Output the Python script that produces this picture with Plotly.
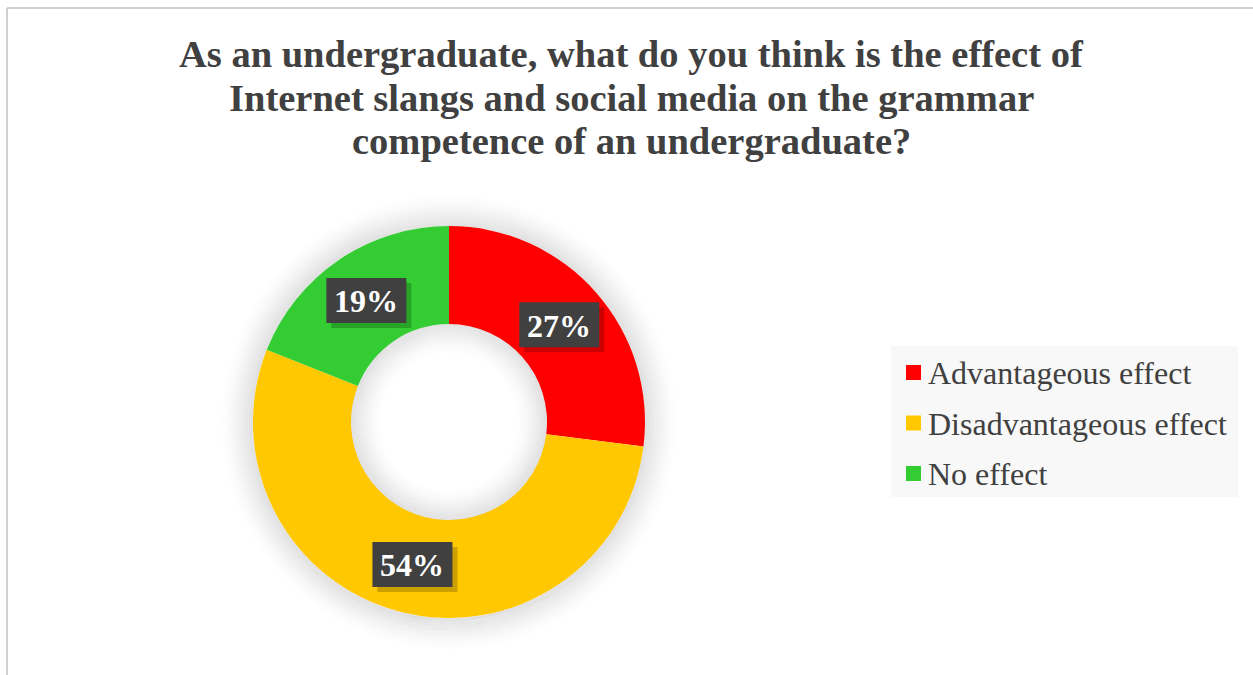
import math
import plotly.graph_objects as go

# Survey responses
categories = ["Advantageous effect", "Disadvantageous effect", "No effect"]
shares = [27, 54, 19]
slice_colors = ["#FF0000", "#FFC800", "#33CC33"]
title_lines = [
    "As an undergraduate, what do you think is the effect of",
    "Internet slangs and social media on the grammar",
    "competence of an undergraduate?",
]

W, H = 1253, 675
SERIF = "Liberation Serif, Times New Roman, serif"
TEXT_GRAY = "#404040"

# Donut geometry in pixels
CX, CY = 449, 422
R_OUT = 196
HOLE = 0.5
R_IN = R_OUT * HOLE


def px(x):
    return x / W


def py(y):
    return (H - y) / H


fig = go.Figure(
    go.Pie(
        labels=categories,
        values=shares,
        marker=dict(colors=slice_colors, line=dict(width=0)),
        hole=HOLE,
        sort=False,
        direction="clockwise",
        rotation=0,
        textinfo="none",
        hoverinfo="label+percent",
        showlegend=False,
        domain=dict(x=[px(CX - R_OUT), px(CX + R_OUT)],
                    y=[py(CY + R_OUT), py(CY - R_OUT)]),
    )
)

shapes = []


def circle(r, color, width, layer="below"):
    return dict(type="circle", xref="paper", yref="paper",
                x0=px(CX - r), x1=px(CX + r), y0=py(CY + r), y1=py(CY - r),
                line=dict(color=color, width=width), fillcolor="rgba(0,0,0,0)",
                layer=layer)


def rect(x0, y0, x1, y1, fill, layer="above"):
    return dict(type="rect", xref="paper", yref="paper",
                x0=px(x0), x1=px(x1), y0=py(y1), y1=py(y0),
                fillcolor=fill, line=dict(width=0), layer=layer)


# Soft glow outside the ring
steps = 16
for k in range(steps):
    a = 0.11 * (1 - k / steps) ** 1.4
    shapes.append(circle(R_OUT + 1 + 2 * k, f"rgba(0,0,0,{a:.4f})", 2.2))

# Soft inner shading around the hole edge
steps_in = 16
for k in range(steps_in):
    a = 0.11 * (1 - k / steps_in) ** 1.5
    shapes.append(circle(R_IN - 1 - 2 * k, f"rgba(0,0,0,{a:.4f})", 2.2, layer="above"))

# Chart frame (top and left edges)
shapes.append(dict(type="line", xref="paper", yref="paper",
                   x0=px(7), x1=1, y0=py(8), y1=py(8),
                   line=dict(color="#C0C0C0", width=1.5)))
shapes.append(dict(type="line", xref="paper", yref="paper",
                   x0=px(7), x1=px(7), y0=py(8), y1=0,
                   line=dict(color="#C0C0C0", width=1.5)))

# Legend panel
shapes.append(rect(891, 346, 1238, 497, "#F8F8F8", layer="below"))

annotations = []

# Title, one annotation per line
for i, line in enumerate(title_lines):
    annotations.append(dict(
        text=f"<b>{line}</b>", xref="paper", yref="paper",
        x=px(631), y=py(54 + 43.5 * i), xanchor="center", yanchor="middle",
        showarrow=False, font=dict(family=SERIF, size=38.5, color=TEXT_GRAY)))

# Legend entries
ROW0, ROW_GAP = 372, 50.5
for i, (name, col) in enumerate(zip(categories, slice_colors)):
    yc = ROW0 + ROW_GAP * i
    shapes.append(rect(906, yc - 7, 921, yc + 8, col))
    annotations.append(dict(
        text=name, xref="paper", yref="paper", x=px(926), y=py(yc + 1),
        xanchor="left", yanchor="middle", showarrow=False,
        font=dict(family=SERIF, size=32, color=TEXT_GRAY)))

# Percentage labels at slice mid-angles, centred in the ring
total = sum(shares)
r_mid = (R_OUT + R_IN) / 2
BOX_W, BOX_H = 80, 45
cum = 0
for v in shares:
    ang = math.radians(360 * (cum + v / 2) / total)
    cum += v
    lx = CX + r_mid * math.sin(ang)
    ly = CY - r_mid * math.cos(ang)
    pct = f"{round(100 * v / total)}%"
    # drop shadow, then the dark label box
    shapes.append(rect(lx - BOX_W / 2 + 5, ly - BOX_H / 2 + 5,
                       lx + BOX_W / 2 + 5, ly + BOX_H / 2 + 5, "rgba(0,0,0,0.2)"))
    shapes.append(rect(lx - BOX_W / 2, ly - BOX_H / 2,
                       lx + BOX_W / 2, ly + BOX_H / 2, "#404040"))
    annotations.append(dict(
        text=f"<b>{pct}</b>", xref="paper", yref="paper", x=px(lx), y=py(ly + 1),
        xanchor="center", yanchor="middle", showarrow=False,
        font=dict(family=SERIF, size=32, color="white")))

fig.update_layout(
    width=W, height=H,
    margin=dict(l=0, r=0, t=0, b=0),
    paper_bgcolor="white", plot_bgcolor="white",
    shapes=shapes, annotations=annotations,
    showlegend=False,
)

fig.write_html("out.html")
